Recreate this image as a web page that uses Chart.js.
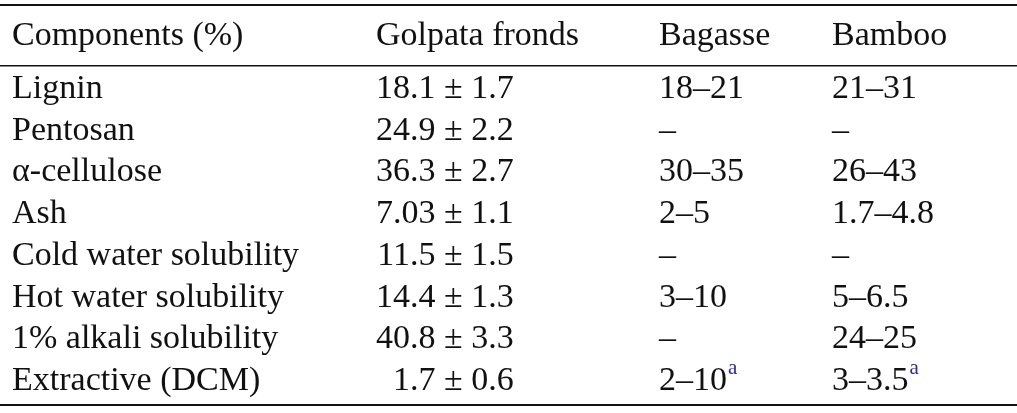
<!DOCTYPE html>
<html><head><meta charset="utf-8">
<script src="https://cdn.jsdelivr.net/npm/chart.js@4"></script>
<style>html,body{margin:0;padding:0;background:#fff}#w{width:1017px;height:413px}</style>
</head><body><div id="w"><canvas id="c"></canvas></div>
<script>
const headers = ["Components (%)", "Golpata fronds", "Bagasse", "Bamboo"];
const components = ["Lignin","Pentosan","α-cellulose","Ash","Cold water solubility","Hot water solubility","1% alkali solubility","Extractive (DCM)"];
const golpata = ["18.1 ± 1.7","24.9 ± 2.2","36.3 ± 2.7","7.03 ± 1.1","11.5 ± 1.5","14.4 ± 1.3","40.8 ± 3.3","1.7 ± 0.6"];
const bagasse = ["18–21","–","30–35","2–5","–","3–10","–","2–10^a"];
const bamboo = ["21–31","–","26–43","1.7–4.8","–","5–6.5","24–25","3–3.5^a"];

const FONT = '34px "Liberation Serif", "Times New Roman", serif';
const colX = [12, 376, 659, 832];

function drawCell(ctx, txt, x, y){
  let sup = null;
  if (txt.includes('^')) { [txt, sup] = txt.split('^'); }
  ctx.fillStyle = '#111';
  ctx.font = FONT;
  ctx.textAlign = 'left';
  ctx.fillText(txt, x, y);
  if (sup){
    const w = ctx.measureText(txt).width;
    ctx.font = '21px "Liberation Serif", serif';
    ctx.fillStyle = '#2a2a9a';
    ctx.fillText(sup, x + w + 1, y - 13);
  }
}

const tablePlugin = {
  id: 'table',
  afterDraw(chart){
    const ctx = chart.ctx, ys = chart.scales.y;
    ctx.save();
    ctx.textBaseline = 'middle';
    ctx.fillStyle = '#111';
    ctx.fillRect(0, 4, 1017, 2);
    ctx.fillRect(0, 65, 1017, 1.5);
    ctx.fillRect(0, 404, 1017, 2);
    headers.forEach((h,i)=>drawCell(ctx, h, colX[i], 36));
    ctx.font = FONT;
    const pmX = colX[1] + ctx.measureText("18.1 ").width;
    components.forEach((c,i)=>{
      const y = ys.getPixelForValue(i);
      drawCell(ctx, c, colX[0], y);
      const parts = golpata[i].split(' ± ');
      ctx.font = FONT; ctx.fillStyle='#111';
      ctx.textAlign = 'right'; ctx.fillText(parts[0] + ' ', pmX, y);
      ctx.textAlign = 'left'; ctx.fillText('± ' + parts[1], pmX, y);
      drawCell(ctx, bagasse[i], colX[2], y);
      drawCell(ctx, bamboo[i], colX[3], y);
    });
    ctx.restore();
  }
};

new Chart(document.getElementById('c'), {
  type: 'bar',
  data: { labels: components, datasets: [{ data: components.map(()=>0) }] },
  options: {
    indexAxis: 'y', responsive: true, maintainAspectRatio: false, animation: false,
    layout: { padding: { top: 68, bottom: 11, left: 0, right: 0 } },
    plugins: { legend: { display: false }, tooltip: { enabled: false } },
    scales: { x: { display: false, min: 0, max: 1 }, y: { display: false } }
  },
  plugins: [tablePlugin]
});
</script></body></html>
